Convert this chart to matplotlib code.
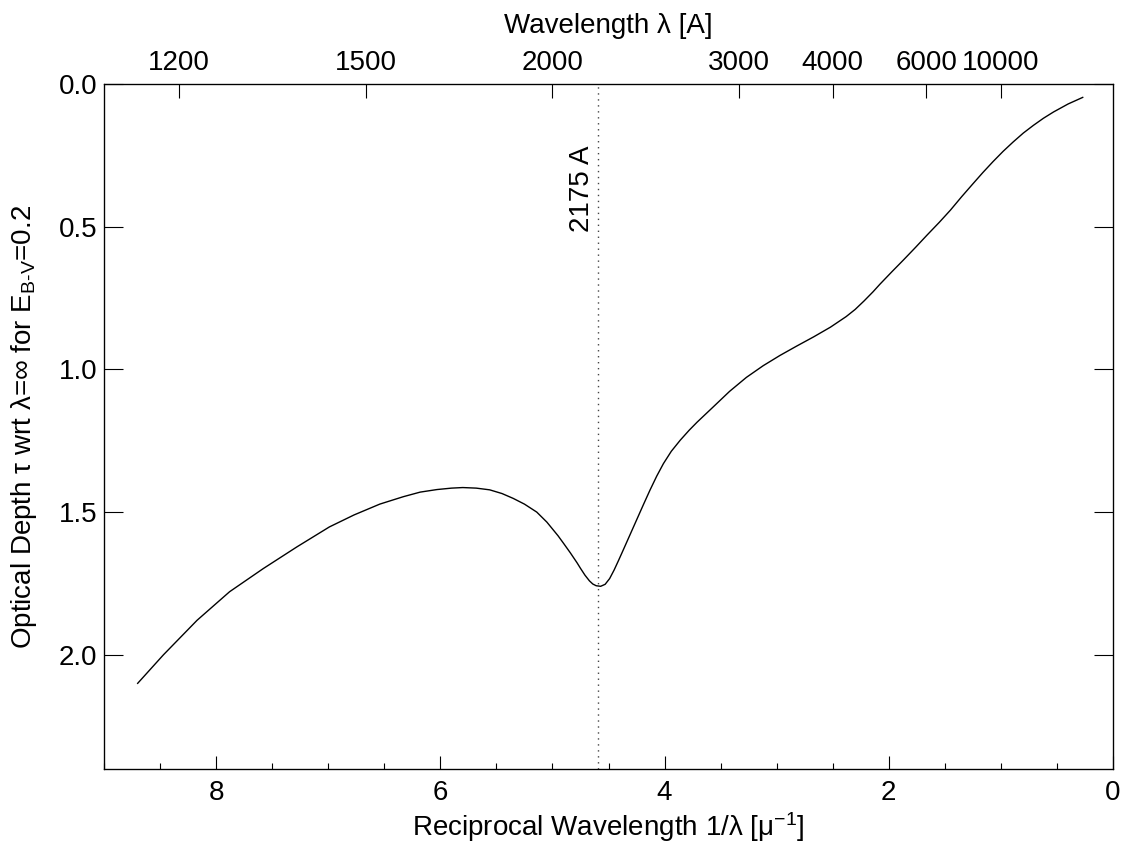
import matplotlib
matplotlib.use('Agg')
import matplotlib.pyplot as plt
from matplotlib.ticker import MultipleLocator, FormatStrFormatter

plt.rcParams['font.family'] = ['Liberation Sans', 'DejaVu Sans']
plt.rcParams['font.size'] = 20
plt.rcParams['mathtext.fontset'] = 'custom'
plt.rcParams['mathtext.rm'] = 'Liberation Sans'
plt.rcParams['mathtext.it'] = 'Liberation Sans'

# extinction curve: 1/lambda [1/micron] vs optical depth
inv_wave = [8.70, 8.47, 8.17, 7.88, 7.58, 7.28, 6.99, 6.77, 6.54, 6.33,
            6.18, 6.03, 5.90, 5.80, 5.68, 5.56, 5.45, 5.35, 5.25, 5.14,
            5.05, 4.95, 4.90, 4.84, 4.78, 4.75, 4.71, 4.67, 4.64, 4.61,
            4.57, 4.53, 4.49, 4.45, 4.41, 4.37, 4.31, 4.25, 4.19, 4.13,
            4.07, 4.01, 3.94, 3.86, 3.78, 3.71, 3.57, 3.42, 3.27, 3.12,
            2.97, 2.82, 2.67, 2.52, 2.38, 2.30, 2.22, 2.14, 2.08, 1.97,
            1.87, 1.76, 1.66, 1.55, 1.45, 1.35, 1.25, 1.16, 1.07, 0.98,
            0.89, 0.80, 0.71, 0.62, 0.53, 0.40, 0.27]
tau = [2.100, 2.000, 1.879, 1.779, 1.698, 1.622, 1.552, 1.510, 1.472, 1.446,
       1.430, 1.421, 1.416, 1.414, 1.416, 1.422, 1.435, 1.452, 1.472, 1.500,
       1.535, 1.583, 1.610, 1.643, 1.678, 1.697, 1.721, 1.741, 1.752, 1.758,
       1.760, 1.753, 1.733, 1.703, 1.669, 1.634, 1.581, 1.528, 1.475, 1.423,
       1.374, 1.330, 1.287, 1.248, 1.213, 1.185, 1.133, 1.077, 1.028, 0.987,
       0.951, 0.918, 0.886, 0.852, 0.815, 0.790, 0.760, 0.728, 0.702, 0.657,
       0.617, 0.572, 0.530, 0.485, 0.442, 0.395, 0.350, 0.310, 0.272, 0.236,
       0.203, 0.172, 0.145, 0.120, 0.098, 0.070, 0.047]

top_waves = [1200, 1500, 2000, 3000, 4000, 6000, 10000]  # Angstrom
bump_wave = 2175  # Angstrom

fig = plt.figure(figsize=(11.32, 8.44), dpi=100)
ax = fig.add_axes([0.0919, 0.0889, 0.8913, 0.8116])

ax.plot(inv_wave, tau, color='black', lw=1.0)

bump_x = 1e4 / bump_wave
ax.axvline(bump_x, color='#444444', lw=1.0, dashes=(1, 3.3))
ax.text(bump_x + 0.02, 0.52, '%d A' % bump_wave, rotation=90,
        ha='right', va='bottom')

ax.set_xlim(9, 0)
ax.set_ylim(2.4, 0)
ax.xaxis.set_major_locator(MultipleLocator(2))
ax.xaxis.set_minor_locator(MultipleLocator(0.5))
ax.xaxis.set_major_formatter(FormatStrFormatter('%d'))
ax.yaxis.set_major_locator(MultipleLocator(0.5))
ax.yaxis.set_minor_locator(MultipleLocator(0.1))
ax.yaxis.set_major_formatter(FormatStrFormatter('%.1f'))

ax.tick_params(axis='x', which='both', direction='in', top=False, bottom=True, pad=8)
ax.tick_params(axis='x', which='major', length=9.5, width=0.8)
ax.tick_params(axis='x', which='minor', length=4.5, width=0.8)
ax.tick_params(axis='y', which='both', direction='in', left=True, right=True, pad=5)
ax.tick_params(axis='y', which='major', length=14, width=0.8)
ax.tick_params(axis='y', which='minor', length=7, width=0.8)
for sp in ax.spines.values():
    sp.set_linewidth(0.9)

ax.set_xlabel(r'Reciprocal Wavelength 1/λ [μ$^{-1}$]', labelpad=3)
ax.set_ylabel(r'Optical Depth τ wrt λ=∞ for E$_{\rm B\text{-}V}$=0.2', labelpad=14)

top = ax.twiny()
top.set_xlim(ax.get_xlim())
top.set_xticks([1e4 / w for w in top_waves])
top.set_xticklabels([str(w) for w in top_waves])
top.minorticks_off()
top.tick_params(axis='x', which='major', direction='in', length=10, width=0.8, pad=6)
top.set_xlabel('Wavelength λ [A]', labelpad=12)

fig.savefig('out.png', dpi=100, facecolor='white')
